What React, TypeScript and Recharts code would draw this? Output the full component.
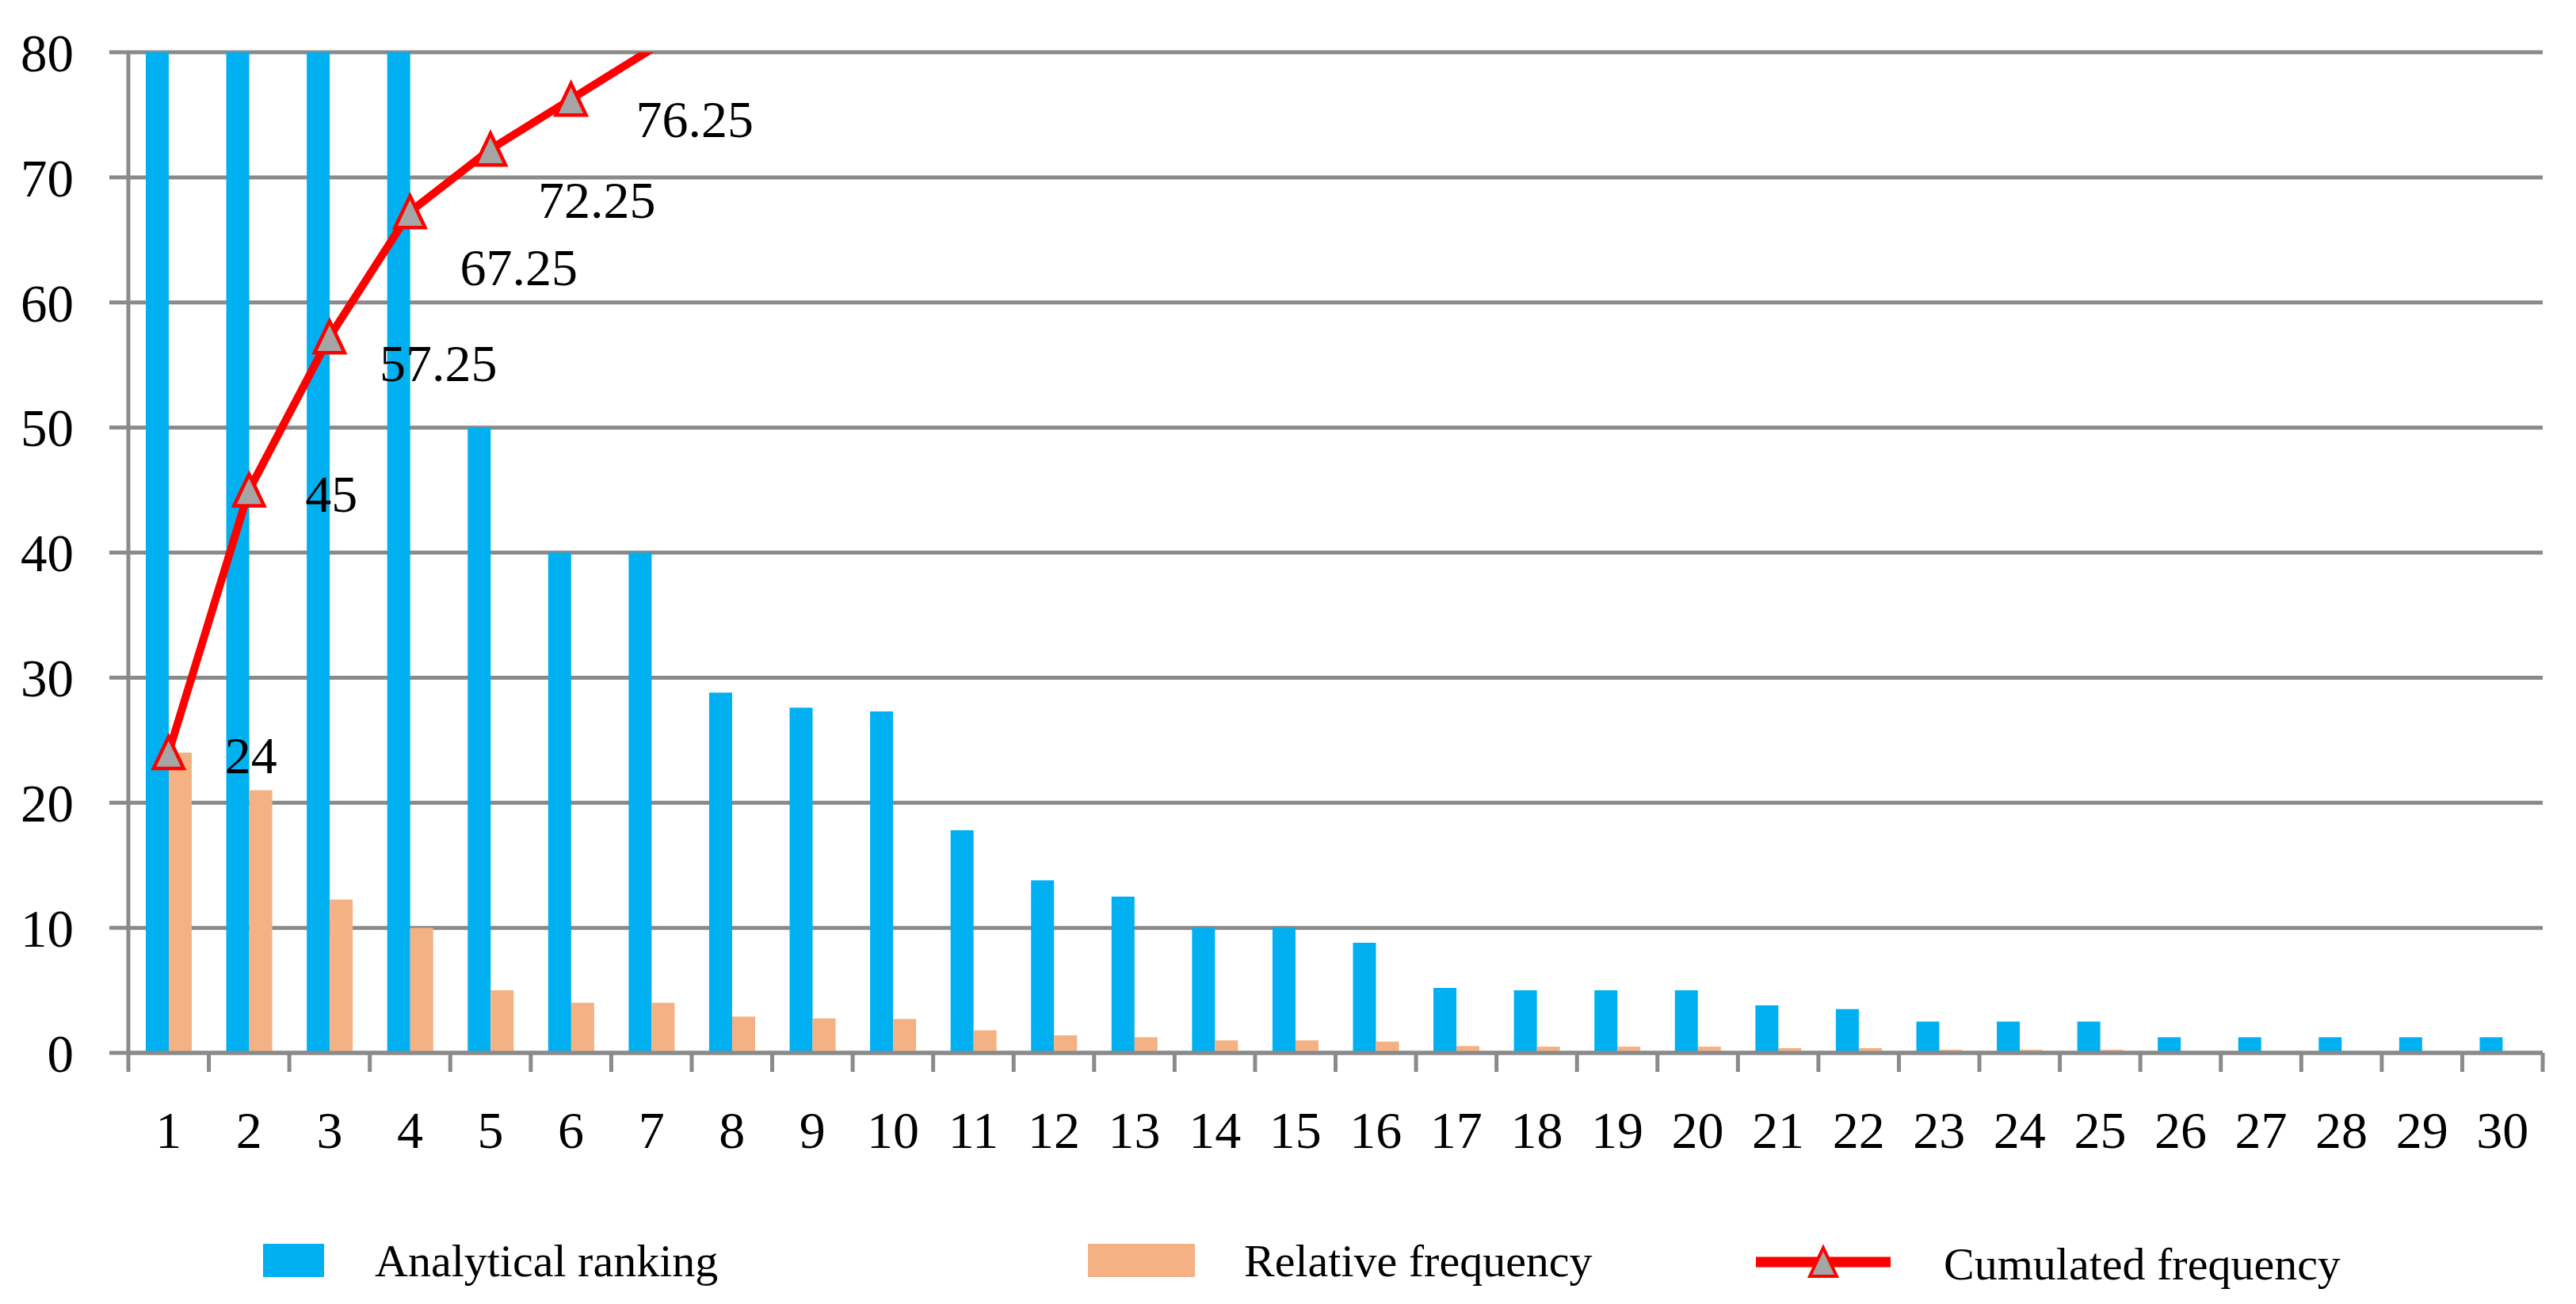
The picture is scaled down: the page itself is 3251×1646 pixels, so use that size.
import React from 'react';
import { ComposedChart, Bar, Line, XAxis, YAxis, CartesianGrid, LabelList } from 'recharts';

const categories = ['1', '2', '3', '4', '5', '6', '7', '8', '9', '10', '11', '12', '13', '14', '15', '16', '17', '18', '19', '20', '21', '22', '23', '24', '25', '26', '27', '28', '29', '30'];
const analyticalRanking = [240, 210, 122.5, 100, 50, 40, 40, 28.8, 27.6, 27.3, 17.8, 13.8, 12.5, 10, 10, 8.8, 5.2, 5, 5, 5, 3.8, 3.5, 2.5, 2.5, 2.5, 1.25, 1.25, 1.25, 1.25, 1.25];
const relativeFrequency = [24, 21, 12.25, 10, 5, 4, 4, 2.9, 2.75, 2.7, 1.8, 1.4, 1.25, 1, 1, 0.9, 0.55, 0.5, 0.5, 0.5, 0.38, 0.38, 0.25, 0.25, 0.25, 0, 0, 0, 0, 0];
const cumulatedFrequency = [24, 45, 57.25, 67.25, 72.25, 76.25, 80.25, 83.15, 85.9, 88.6, 90.4, 91.8, 93.05, 94.05, 95.05, 95.95, 96.5, 97, 97.5, 98, 98.38, 98.76, 99.01, 99.26, 99.51, 99.51, 99.51, 99.51, 99.51, 99.51];
const yTicks = [0, 10, 20, 30, 40, 50, 60, 70, 80];

const data = categories.map((c, i) => ({
  cat: c,
  analytical: analyticalRanking[i],
  relative: relativeFrequency[i],
  cumulated: cumulatedFrequency[i],
}));

const FONT = '"Liberation Serif", "DejaVu Serif", serif';
const GRID = '#8a8a8a';
const BLUE = '#00b0f0';
const ORANGE = '#f4b183';
const RED = '#ff0000';
const MARKER = '#a5a5a5';
const Y_MAX = 80;

// hand-placed data label nudges, as in the original
const labelDx = [71, 71, 63, 63, 60, 82];
const labelDy = [3, 5, 33, 70, 64, 25];

const triangle = (cx: number, cy: number, w: number, h: number) =>
  `M${cx},${cy - h / 2} L${cx + w / 2},${cy + h / 2} L${cx - w / 2},${cy + h / 2} Z`;

const XTick = (props: any) => {
  const { x, y, payload, index, visibleTicksCount } = props;
  const off = payload.offset || 0;
  const isLast = index === visibleTicksCount - 1;
  return (
    <g>
      <line x1={x - off} x2={x - off} y1={y} y2={y + 24} stroke={GRID} strokeWidth={5} />
      {isLast && <line x1={x + off} x2={x + off} y1={y} y2={y + 24} stroke={GRID} strokeWidth={5} />}
      <text x={x} y={y + 73} dy="0.71em" textAnchor="middle" fontSize={66} fontFamily={FONT} fill="#000">
        {payload.value}
      </text>
    </g>
  );
};

const TriangleDot = (props: any) => {
  const { cx, cy, payload, index } = props;
  if (payload.cumulated > Y_MAX) return <g key={`dot-${index}`} />;
  return (
    <path key={`dot-${index}`} d={triangle(cx, cy, 38, 40)} fill={MARKER} stroke={RED} strokeWidth={4.5} strokeLinejoin="miter" />
  );
};

const CumLabel = (props: any) => {
  const { x, y, value, index } = props;
  if (value > Y_MAX || index >= labelDx.length) return null;
  return (
    <text x={x + labelDx[index]} y={y + labelDy[index]} dominantBaseline="central" fontSize={66} fontFamily={FONT} fill="#000">
      {value}
    </text>
  );
};

const LegendRow = () => (
  <svg width={3235} height={90} style={{ position: 'absolute', left: 0, top: 1540 }}>
    <rect x={324} y={22} width={77} height={42} fill={BLUE} />
    <text x={465} y={63} fontSize={58} fontFamily={FONT} fill="#000">Analytical ranking</text>
    <rect x={1365} y={22} width={135} height={42} fill={ORANGE} />
    <text x={1562} y={63} fontSize={58} fontFamily={FONT} fill="#000">Relative frequency</text>
    <line x1={2208} x2={2378} y1={45} y2={45} stroke={RED} strokeWidth={13} />
    <path d={triangle(2293, 45, 34, 36)} fill={MARKER} stroke={RED} strokeWidth={4} />
    <text x={2445} y={67} fontSize={58} fontFamily={FONT} fill="#000">Cumulated frequency</text>
  </svg>
);

const App: React.FC = () => {
  return (
    <div style={{ position: 'relative', width: 3235, height: 1630, background: '#fff' }}>
      <ComposedChart
        width={3235}
        height={1630}
        data={data}
        margin={{ top: 58, right: 34, bottom: 189, left: 0 }}
        barGap={0}
      >
        <CartesianGrid vertical={false} stroke={GRID} strokeWidth={5} />
        <XAxis
          dataKey="cat"
          interval={0}
          height={120}
          tickSize={0}
          tickMargin={0}
          tickLine={false}
          axisLine={{ stroke: GRID, strokeWidth: 5 }}
          tick={<XTick />}
        />
        <YAxis
          domain={[0, Y_MAX]}
          ticks={yTicks}
          allowDataOverflow
          width={154}
          tickSize={24}
          tickMargin={45}
          axisLine={{ stroke: GRID, strokeWidth: 5 }}
          tickLine={{ stroke: GRID, strokeWidth: 5 }}
          tick={{ fontSize: 67, fontFamily: FONT, fill: '#000' }}
        />
        <Bar dataKey="analytical" fill={BLUE} barSize={29} isAnimationActive={false} />
        <Bar dataKey="relative" fill={ORANGE} barSize={29} isAnimationActive={false} />
        <Line
          dataKey="cumulated"
          stroke={RED}
          strokeWidth={10}
          dot={TriangleDot}
          activeDot={false}
          isAnimationActive={false}
        >
          <LabelList dataKey="cumulated" content={CumLabel} />
        </Line>
      </ComposedChart>
      <LegendRow />
    </div>
  );
};

export default App;
